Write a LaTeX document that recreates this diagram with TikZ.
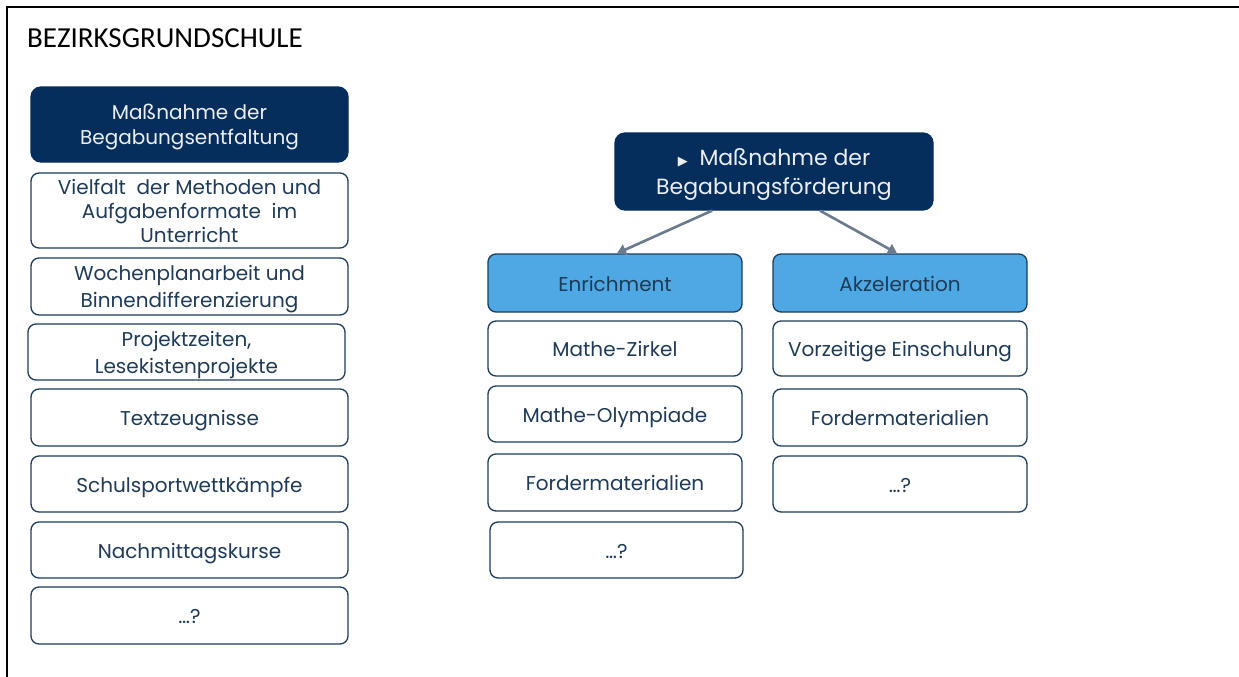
\documentclass[tikz,border=0pt]{standalone}
\usepackage{fontspec}
\setmainfont{Poppins}
\newfontfamily\titlefont{Carlito}
\newfontfamily\symfont{DejaVu Sans}
\usetikzlibrary{arrows.meta}
\definecolor{navy}{HTML}{062E5C}
\definecolor{skyb}{HTML}{4DA8E4}
\definecolor{edge}{HTML}{1E3D5C}
\definecolor{txt}{HTML}{1F3B57}
\definecolor{arrowgray}{HTML}{6A7B8D}
\tikzset{
  box/.style={draw=edge, line width=1.3pt, rounded corners=8pt, fill=white,
    text=txt, align=center, inner sep=0pt, minimum width=317pt,
    font=\fontsize{20}{27}\selectfont},
  single/.style={text height=19pt, text depth=3pt},
  headbox/.style={box, fill=navy, draw=navy, text=white!92!navy, rounded corners=10pt},
  midbox/.style={box, minimum width=254pt},
  bluebox/.style={midbox, fill=skyb},
  arr/.style={draw=arrowgray, line width=2.6pt, -{Triangle[length=9pt,width=11pt]}}
}
\begin{document}
\begin{tikzpicture}[x=1pt,y=-1pt]
\useasboundingbox (0,0) rectangle (1239,677);
\fill[white] (0,0) rectangle (1239,677);
\draw[line width=2pt, black] (6.5,677) -- (6.5,7) -- (1239,7);
\node[anchor=base west, font=\titlefont\fontsize{29}{35}\selectfont, inner sep=0pt] (title) at (27,48) {BEZIRKSGRUNDSCHULE};
% left column
\node[headbox, minimum height=75pt, font=\fontsize{20}{25}\selectfont, text depth=-1pt] (h1) at (189.5,124.5) {Maßnahme der\\Begabungsentfaltung};
\node[box, minimum height=75pt, font=\fontsize{20}{24}\selectfont] (b2) at (189.5,210.5) {Vielfalt\ \ der Methoden und\\Aufgabenformate\ \ im\\Unterricht};
\node[box, minimum height=57pt, text depth=-3pt] (b3) at (189.5,286.5) {Wochenplanarbeit und\\Binnendifferenzierung};
\node[box, minimum height=56pt, text depth=-5pt] (b4) at (186.5,352) {Projektzeiten,\\Lesekistenprojekte};
\node[box, single, minimum height=57pt] (b5) at (189.5,417.5) {Textzeugnisse};
\node[box, single, minimum height=56pt] (b6) at (189.5,484) {Schulsportwettkämpfe};
\node[box, single, minimum height=56pt] (b7) at (189.5,550) {Nachmittagskurse};
\node[box, single, minimum height=57pt] (b8) at (189.5,615.5) {\dots?};
% middle header
\node[headbox, minimum width=318pt, minimum height=77pt, font=\fontsize{22}{29}\selectfont, text depth=-2.5pt] (mh) at (774,171.5) {{\symfont\fontsize{13}{13}\selectfont ▶}\ \ Maßnahme der\\Begabungsförderung};
\node[bluebox, single, minimum height=58pt] (en) at (615,283) {Enrichment};
\node[bluebox, single, minimum height=58pt] (ak) at (900,283) {Akzeleration};
\node[midbox, single, minimum height=55pt] (e1) at (615,348.5) {Mathe-Zirkel};
\node[midbox, single, minimum height=56pt] (e2) at (615,414) {Mathe-Olympiade};
\node[midbox, single, minimum height=57pt] (e3) at (615,482.5) {Fordermaterialien};
\node[midbox, single, minimum width=253pt, minimum height=56pt] (e4) at (616.5,550) {\dots?};
\node[midbox, single, minimum height=55pt] (a1) at (900,348.5) {Vorzeitige Einschulung};
\node[midbox, single, minimum height=57pt] (a2) at (900,417.5) {Fordermaterialien};
\node[midbox, single, minimum height=56pt] (a3) at (900,484) {\dots?};
\draw[arr] ([xshift=-62pt]mh.south) -- ([xshift=2pt]en.north);
\draw[arr] ([xshift=46pt]mh.south) -- ([xshift=-3pt]ak.north);
\end{tikzpicture}
\end{document}
